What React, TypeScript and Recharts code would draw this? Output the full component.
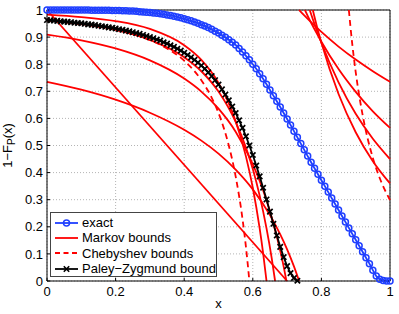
import React from 'react'
import { LineChart, Line, XAxis, YAxis, CartesianGrid, ReferenceLine, Legend, Label } from 'recharts'

const FONT = '"Liberation Sans", Arial, Helvetica, sans-serif'
const BLUE = '#1f3fff'
const RED = '#ff0000'

const xTicks = [0, 0.2, 0.4, 0.6, 0.8, 1]
const yTicks = [0, 0.1, 0.2, 0.3, 0.4, 0.5, 0.6, 0.7, 0.8, 0.9, 1]

// exact 1-F_P(x), one value every 0.01 from 0 to 1
const exact = [
  1, 1, 1, 1, 1, 1, 1, 1, 1, 1, 1,
  1, 1, 0.999, 0.999, 0.999, 0.999, 0.999, 0.999, 0.998, 0.998,
  0.998, 0.997, 0.997, 0.996, 0.996, 0.995, 0.994, 0.993, 0.992, 0.991,
  0.989, 0.988, 0.986, 0.984, 0.982, 0.98, 0.977, 0.974, 0.971, 0.968,
  0.964, 0.96, 0.956, 0.951, 0.946, 0.941, 0.935, 0.929, 0.922, 0.915,
  0.907, 0.899, 0.89, 0.881, 0.871, 0.858, 0.845, 0.831, 0.816, 0.8,
  0.783, 0.765, 0.746, 0.726, 0.705, 0.684, 0.663, 0.642, 0.62, 0.598,
  0.576, 0.553, 0.53, 0.507, 0.484, 0.461, 0.438, 0.416, 0.394, 0.372,
  0.35, 0.328, 0.306, 0.284, 0.262, 0.24, 0.218, 0.196, 0.174, 0.152,
  0.13, 0.108, 0.086, 0.064, 0.04, 0.018, 0.006, 0.002, 0, 0,
]

// Paley-Zygmund bound, every 0.01 from 0 to 0.73
const paleyZygmund = [
  0.963, 0.962, 0.961, 0.96, 0.958, 0.957, 0.956, 0.955, 0.953, 0.952,
  0.951, 0.949, 0.947, 0.946, 0.944, 0.942, 0.94, 0.938, 0.936, 0.934,
  0.932, 0.929, 0.927, 0.924, 0.921, 0.918, 0.915, 0.912, 0.908, 0.904,
  0.9, 0.896, 0.891, 0.887, 0.881, 0.876, 0.87, 0.864, 0.857, 0.85,
  0.842, 0.834, 0.825, 0.816, 0.806, 0.795, 0.783, 0.77, 0.756, 0.741,
  0.725, 0.707, 0.688, 0.667, 0.644, 0.62, 0.593, 0.565, 0.534, 0.5,
  0.465, 0.426, 0.386, 0.344, 0.301, 0.256, 0.211, 0.168, 0.126, 0.088,
  0.055, 0.029, 0.011, 0.001,
]

// Markov bounds, [x, y]
const markovLine = [[0, 1], [0.7, 0]]
const markovLow1 = [[0, 0.735], [0.1, 0.706], [0.2, 0.669], [0.3, 0.621], [0.4, 0.558], [0.45, 0.518], [0.5, 0.47], [0.55, 0.411], [0.6, 0.338], [0.65, 0.243], [0.68, 0.172], [0.7, 0.117], [0.72, 0.054], [0.735, 0]]
const markovLow2 = [[0, 0.909], [0.1, 0.888], [0.2, 0.858], [0.3, 0.814], [0.4, 0.747], [0.45, 0.699], [0.5, 0.636], [0.55, 0.551], [0.6, 0.431], [0.63, 0.335], [0.65, 0.257], [0.67, 0.164], [0.68, 0.111], [0.69, 0.053], [0.698, 0]]
const markovLow3 = [[0, 0.962], [0.1, 0.948], [0.2, 0.927], [0.3, 0.89], [0.4, 0.826], [0.45, 0.774], [0.5, 0.699], [0.55, 0.587], [0.58, 0.492], [0.6, 0.413], [0.62, 0.315], [0.64, 0.194], [0.655, 0.085], [0.665, 0]]
const markovLow4 = [[0, 0.983], [0.1, 0.974], [0.2, 0.959], [0.3, 0.93], [0.4, 0.87], [0.45, 0.816], [0.5, 0.731], [0.55, 0.59], [0.58, 0.46], [0.6, 0.344], [0.62, 0.194], [0.63, 0.104], [0.64, 0]]
const markovUp1 = [[0.735, 1], [0.75, 0.98], [0.8, 0.919], [0.85, 0.865], [0.9, 0.817], [0.95, 0.774], [1, 0.735]]
const markovUp2 = [[0.752, 1], [0.76, 0.978], [0.8, 0.883], [0.85, 0.782], [0.9, 0.698], [0.95, 0.626], [1, 0.565]]
const markovUp3 = [[0.766, 1], [0.78, 0.948], [0.8, 0.879], [0.85, 0.733], [0.9, 0.617], [0.95, 0.525], [1, 0.45]]
const markovUp4 = [[0.775, 1], [0.79, 0.924], [0.8, 0.879], [0.85, 0.69], [0.9, 0.549], [0.95, 0.442], [1, 0.36]]

// Chebyshev bounds
const chebLow = [[0, 0.961], [0.1, 0.948], [0.2, 0.927], [0.3, 0.889], [0.35, 0.858], [0.4, 0.813], [0.45, 0.741], [0.48, 0.677], [0.5, 0.62], [0.515, 0.566], [0.53, 0.5], [0.55, 0.386], [0.57, 0.229], [0.58, 0.126], [0.59, 0]]
const chebUp = [[0.88, 1], [0.89, 0.874], [0.9, 0.771], [0.92, 0.614], [0.95, 0.454], [0.97, 0.38], [1, 0.299]]

const pts = (pairs: number[][]) => pairs.map(([x, y]) => ({ x, y }))
const onGrid = (ys: number[]) => ys.map((y, i) => ({ x: i / 100, y }))

const markovSets = [markovLine, markovLow1, markovLow2, markovLow3, markovLow4, markovUp1, markovUp2, markovUp3, markovUp4]
const chebSets = [chebLow, chebUp]

const Cross = (props: any) => {
  const { cx, cy, index } = props
  if (cx == null || cy == null) return <g key={`pz${index}`} />
  const s = 2.7
  return (
    <path key={`pz${index}`} d={`M${cx - s},${cy - s}L${cx + s},${cy + s}M${cx - s},${cy + s}L${cx + s},${cy - s}`}
      stroke="#000" strokeWidth={1.7} fill="none" />
  )
}

const legendRows = [
  { label: 'exact', kind: 'exact' },
  { label: 'Markov bounds', kind: 'markov' },
  { label: 'Chebyshev bounds', kind: 'cheb' },
  { label: 'Paley\u2212Zygmund bound', kind: 'pz' },
]

function LegendBox() {
  return (
    <div style={{
      width: 167, height: 65, boxSizing: 'border-box', border: '1px solid #444', background: '#fff',
      fontFamily: FONT, fontSize: 13, color: '#000', paddingTop: 2,
    }}>
      {legendRows.map(r => (
        <div key={r.kind} style={{ display: 'flex', alignItems: 'center', height: 15.3, whiteSpace: 'nowrap' }}>
          <svg width={31} height={12} style={{ flex: 'none' }}>
            {r.kind === 'exact' && <>
              <line x1={4} x2={27} y1={6} y2={6} stroke={BLUE} strokeWidth={1.8} />
              <circle cx={15.5} cy={6} r={3} stroke={BLUE} strokeWidth={1.5} fill="none" />
            </>}
            {r.kind === 'markov' && <line x1={4} x2={27} y1={6} y2={6} stroke={RED} strokeWidth={1.8} />}
            {r.kind === 'cheb' && <line x1={4} x2={27} y1={6} y2={6} stroke={RED} strokeWidth={1.8} strokeDasharray="5 3.5" />}
            {r.kind === 'pz' && <>
              <line x1={4} x2={27} y1={6} y2={6} stroke="#000" strokeWidth={1.8} />
              <path d="M12.8,3.3L18.2,8.7M12.8,8.7L18.2,3.3" stroke="#000" strokeWidth={1.6} />
            </>}
          </svg>
          <span>{r.label}</span>
        </div>
      ))}
    </div>
  )
}

const tickStyle = { fontSize: 13, fill: '#000', fontFamily: FONT }

export default function App() {
  return (
    <div style={{ position: 'absolute', left: 0, top: 0, background: '#fff' }}>
      <LineChart width={399} height={314} margin={{ top: 10, right: 9, bottom: 3, left: 7 }}>
        <CartesianGrid stroke="#b4b4b4" strokeDasharray="1 2" />
        <XAxis type="number" dataKey="x" domain={[0, 1]} ticks={xTicks} interval={0} height={30}
          tickSize={-3} tickMargin={9} tick={tickStyle} axisLine={{ stroke: '#000' }} tickLine={{ stroke: '#000' }}>
          <Label content={() => (
            <text x={218.5} y={308} textAnchor="middle" fontFamily={FONT} fontSize={13} fill="#000">x</text>
          )} />
        </XAxis>
        <YAxis type="number" domain={[0, 1]} ticks={yTicks} interval={0} width={40}
          tickSize={-3} tickMargin={7} tick={tickStyle} axisLine={{ stroke: '#000' }} tickLine={{ stroke: '#000' }}>
          <Label content={() => (
            <text x={12} y={145.5} transform="rotate(-90 12 145.5)" textAnchor="middle"
              fontFamily={FONT} fontSize={13} fill="#000">
              1{'\u2212'}F<tspan fontSize={10} dy={3}>P</tspan><tspan dy={-3}>(x)</tspan>
            </text>
          )} />
        </YAxis>
        <ReferenceLine y={1} stroke="#000" />
        <ReferenceLine x={1} stroke="#000" />

        <Line data={onGrid(exact)} dataKey="y" name="exact" type="linear" stroke={BLUE} strokeWidth={1.8}
          dot={{ r: 3, stroke: BLUE, strokeWidth: 1.5, fill: 'none' }} activeDot={false} isAnimationActive={false} />

        {markovSets.map((s, i) => (
          <Line key={`m${i}`} data={pts(s)} dataKey="y" name={`markov${i}`} type="monotone" stroke={RED}
            strokeWidth={1.8} dot={false} activeDot={false} isAnimationActive={false} />
        ))}

        {chebSets.map((s, i) => (
          <Line key={`c${i}`} data={pts(s)} dataKey="y" name={`cheb${i}`} type="monotone" stroke={RED}
            strokeWidth={1.8} strokeDasharray="6 4" dot={false} activeDot={false} isAnimationActive={false} />
        ))}

        <Line data={onGrid(paleyZygmund)} dataKey="y" name="pz" type="linear" stroke="#000" strokeWidth={1.8}
          dot={Cross} activeDot={false} isAnimationActive={false} />

        <Legend layout="vertical" align="center" verticalAlign="middle" content={() => <LegendBox />}
          wrapperStyle={{ left: 50, top: 212, width: 167, height: 65 }} />
      </LineChart>
    </div>
  )
}
